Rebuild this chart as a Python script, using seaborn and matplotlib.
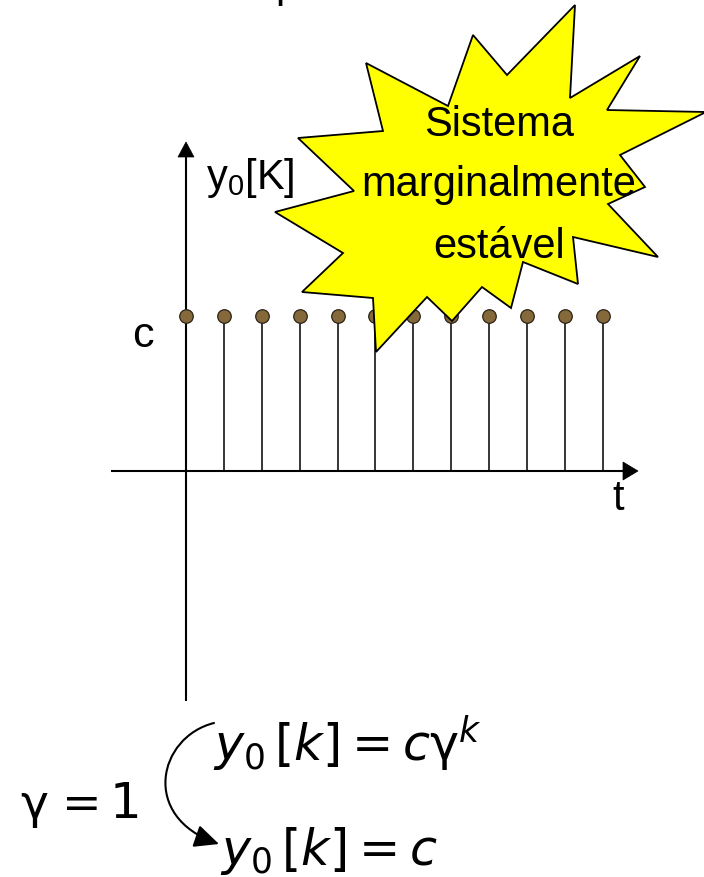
import matplotlib
matplotlib.use("Agg")
import matplotlib.pyplot as plt
from matplotlib.patches import Polygon, FancyArrowPatch
from matplotlib.path import Path
import seaborn as sns

# ---- data ----
k_values = [0, 1, 2, 3, 4, 5, 6, 7, 8, 9, 10, 11]
y_values = [1, 1, 1, 1, 1, 1, 1, 1, 1, 1, 1, 1]   # y0[k] = c for gamma = 1
y_label = "y$_0$[K]"
x_label = "t"
level_label = "c"
star_lines = ["Sistema", "marginalmente", "estável"]
eq_general = r"$y_{0}\,[k] = c\mathrm{\gamma}^{k}$"
eq_special = r"$y_{0}\,[k] = c$"
eq_gamma = ["γ", "=", "1"]

sns.set_theme(style="white")
plt.rcParams["font.family"] = ["Liberation Sans", "DejaVu Sans"]
plt.rcParams["text.color"] = "black"
plt.rcParams["mathtext.fontset"] = "custom"
plt.rcParams["mathtext.rm"] = "Liberation Sans"
plt.rcParams["mathtext.it"] = "Liberation Sans:italic"

W, H = 704, 878
fig = plt.figure(figsize=(W / 100, H / 100), dpi=100)
fig.patch.set_facecolor("white")

# pixel anchors of the data frame
X0, DX = 186.0, 37.9   # pixel x of k=0, pixel per step
Y0, DY = 472.0, 155.0  # pixel y (from top) of value 0, pixel per unit

def pix_axes(z):
    a = fig.add_axes([0, 0, 1, 1], zorder=z)
    a.set_xlim(0, W)
    a.set_ylim(H, 0)
    a.axis("off")
    a.patch.set_alpha(0)
    return a

ax_bg = pix_axes(0)

ax = fig.add_axes([0, 0, 1, 1], zorder=1)
ax.patch.set_alpha(0)

ax_fg = pix_axes(2)

# ---- coordinate axes with arrows ----
lw_axis = 1.5
ax_bg.plot([X0, X0], [702, 157], color="black", lw=lw_axis, solid_capstyle="butt")
ax_bg.add_patch(Polygon([[X0, 143], [X0 - 8, 158], [X0 + 8, 158]], closed=True,
                        fc="black", ec="black", lw=0.5))
ax_bg.plot([111, 624], [Y0, Y0], color="black", lw=lw_axis, solid_capstyle="butt")
ax_bg.add_patch(Polygon([[638, Y0], [623, Y0 - 9], [623, Y0 + 9]], closed=True,
                        fc="black", ec="black", lw=0.5))

# ---- stems ----
ax.vlines(k_values, 0, y_values, colors="black", lw=1.1, zorder=2)
sns.scatterplot(x=k_values, y=y_values, ax=ax, s=95, color="#85693b",
                edgecolor="#2a2418", linewidth=0.9, zorder=3, legend=False)
ax.set_xlim(-X0 / DX, (W - X0) / DX)
ax.set_ylim((Y0 - H) / DY, Y0 / DY)
ax.axis("off")

# ---- labels ----
ax_bg.text(206, 189, y_label, fontsize=30, ha="left", va="baseline")
ax_bg.text(143, 347, level_label, fontsize=31, ha="center", va="baseline")
ax_bg.text(618, 510, x_label, fontsize=30, ha="center", va="baseline")
ax_bg.text(287, -3, "p", fontsize=30, ha="center", va="baseline", clip_on=False)

# ---- star ----
star = [(575, 6), (570, 99), (640, 57), (607, 111), (706, 113), (620, 156),
        (645, 188), (608, 205), (658, 258), (573, 238), (578, 285), (523, 263),
        (511, 309), (482, 288), (452, 322), (427, 298), (376, 353), (373, 299),
        (302, 293), (343, 254), (275, 213), (354, 192), (298, 139), (383, 132),
        (366, 64), (448, 107), (473, 36), (507, 76)]
ax_fg.add_patch(Polygon(star, closed=True, fc="#ffff00", ec="black", lw=1.3,
                        joinstyle="miter", clip_on=False))
for txt, yb in zip(star_lines, [136, 196, 258]):
    ax_fg.text(499, yb, txt, fontsize=30, ha="center", va="baseline", zorder=5)

# ---- equations ----
ax_bg.text(213, 762, eq_general, fontsize=35.5, ha="left", va="baseline",
           math_fontfamily="dejavusans")
ax_bg.text(220, 865, eq_special, fontsize=35.5, ha="left", va="baseline",
           math_fontfamily="dejavusans")
for txt, xl, fs in zip(eq_gamma, [20, 62, 110], [34, 34, 36]):
    ax_bg.text(xl, 818, txt, fontsize=fs, ha="left", va="baseline",
               family="DejaVu Sans")
curve = Path([(214, 724), (158, 738), (140, 818), (219, 845)],
             [Path.MOVETO, Path.CURVE4, Path.CURVE4, Path.CURVE4])
ax_bg.add_patch(FancyArrowPatch(path=curve,
                                arrowstyle="-|>,head_length=0.75,head_width=0.35",
                                mutation_scale=20, lw=1.5, color="black"))

fig.savefig("out.png", dpi=100)
